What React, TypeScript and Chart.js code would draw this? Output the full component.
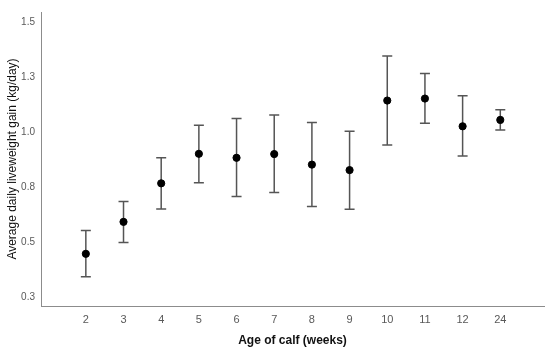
import React, { useEffect, useRef } from "react";
import { Chart, registerables } from "chart.js";

Chart.register(...registerables);

const categories = ["2", "3", "4", "5", "6", "7", "8", "9", "10", "11", "12", "24"];
const means = [0.447, 0.592, 0.767, 0.901, 0.883, 0.9, 0.852, 0.827, 1.143, 1.152, 1.026, 1.055];
const upper = [0.553, 0.685, 0.883, 1.031, 1.061, 1.077, 1.043, 1.003, 1.345, 1.266, 1.165, 1.101];
const lower = [0.343, 0.498, 0.65, 0.77, 0.707, 0.725, 0.662, 0.649, 0.941, 1.04, 0.891, 1.009];
const yTicks = [0.25, 0.5, 0.75, 1.0, 1.25, 1.5];

const errorBarPlugin = {
  id: "errorBars",
  beforeDatasetsDraw(chart: any) {
    const { ctx, scales } = chart;
    const xs = scales.x;
    const ys = scales.y;
    ctx.save();
    ctx.strokeStyle = "#555555";
    ctx.lineWidth = 1.5;
    for (let i = 0; i < means.length; i++) {
      const x = xs.getPixelForValue(i);
      const yt = ys.getPixelForValue(upper[i]);
      const yb = ys.getPixelForValue(lower[i]);
      ctx.beginPath();
      ctx.moveTo(x, yt);
      ctx.lineTo(x, yb);
      ctx.moveTo(x - 5, yt);
      ctx.lineTo(x + 5, yt);
      ctx.moveTo(x - 5, yb);
      ctx.lineTo(x + 5, yb);
      ctx.stroke();
    }
    ctx.restore();
  },
};

export default function App() {
  const ref = useRef<HTMLCanvasElement>(null);
  useEffect(() => {
    if (!ref.current) return;
    const chart = new Chart(ref.current, {
      type: "scatter",
      data: {
        datasets: [
          {
            data: means.map((m, i) => ({ x: i, y: m })),
            backgroundColor: "#000000",
            borderColor: "#000000",
            pointRadius: 3.6,
            pointHoverRadius: 3.6,
          },
        ],
      },
      options: {
        animation: false,
        responsive: false,
        events: [],
        layout: { padding: { top: 8, right: 6, left: 0, bottom: 0 } },
        plugins: { legend: { display: false }, tooltip: { enabled: false } },
        scales: {
          x: {
            type: "linear",
            min: -1.19,
            max: 12.16,
            afterBuildTicks: (s: any) => {
              s.ticks = categories.map((_, i) => ({ value: i }));
            },
            afterFit: (s: any) => {
              s.height = 46;
            },
            grid: { display: false, drawTicks: false },
            border: { display: true, color: "#8c8c8c", width: 1 },
            ticks: {
              padding: 7,
              color: "#595959",
              font: { family: "Liberation Sans", size: 11 },
              maxRotation: 0,
              autoSkip: false,
              callback: (v: any) => categories[Math.round(Number(v))] ?? "",
            },
            title: {
              display: true,
              text: "Age of calf (weeks)",
              color: "#111111",
              font: { family: "Liberation Sans", size: 12, weight: "bold" },
              padding: { top: 0, bottom: 4 },
            },
          },
          y: {
            type: "linear",
            min: 0.21,
            max: 1.545,
            afterBuildTicks: (s: any) => {
              s.ticks = yTicks.map((v) => ({ value: v }));
            },
            afterFit: (s: any) => {
              s.width = 41;
            },
            grid: { display: false, drawTicks: false },
            border: { display: true, color: "#8c8c8c", width: 1 },
            ticks: {
              padding: 6,
              color: "#595959",
              font: { family: "Liberation Sans", size: 10 },
              callback: (v: any) => Number(v).toFixed(1),
            },
            title: {
              display: true,
              text: "Average daily liveweight gain (kg/day)",
              color: "#111111",
              font: { family: "Liberation Sans", size: 12 },
              padding: { top: 5, bottom: 0 },
            },
          },
        },
      },
      plugins: [errorBarPlugin],
    });
    return () => chart.destroy();
  }, []);
  return (
    <div style={{ position: "fixed", left: 0, top: 0, width: 550, height: 352, background: "#ffffff" }}>
      <canvas ref={ref} width={550} height={352} />
    </div>
  );
}
